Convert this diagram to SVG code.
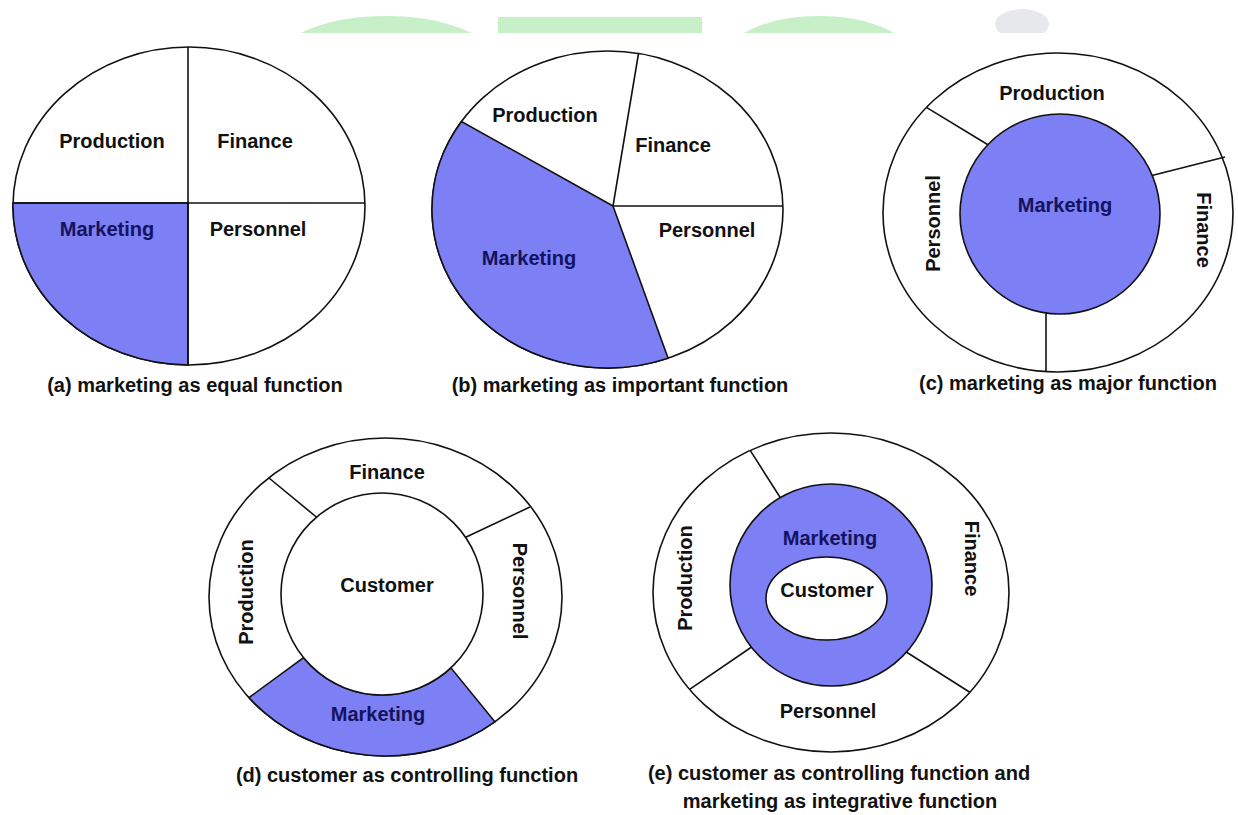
<svg xmlns="http://www.w3.org/2000/svg" width="1238" height="815" viewBox="0 0 1238 815">
  <defs>
    <style>
      .ring { fill: #ffffff; stroke: #111111; stroke-width: 1.6; }
      .blue { fill: #7d7ff5; stroke: #111111; stroke-width: 1.6; }
      .line { stroke: #111111; stroke-width: 1.6; fill: none; }
      .lbl  { font-family: "Liberation Sans", Arial, sans-serif; font-weight: bold; font-size: 20px; fill: #111111; text-anchor: middle; }
      .mk   { fill: #13135e; }
      .cap  { font-family: "Liberation Sans", Arial, sans-serif; font-weight: bold; font-size: 20px; fill: #111111; text-anchor: middle; }
      .deco { fill: #c8f0c8; }
    </style>
    <clipPath id="topStrip">
      <rect x="0" y="0" width="1238" height="33"/>
    </clipPath>
  </defs>

  <rect x="0" y="0" width="1238" height="815" fill="#ffffff"/>

  <!-- decorative band along the top edge -->
  <g id="top-band" clip-path="url(#topStrip)">
    <ellipse class="deco" cx="386" cy="60" rx="108" ry="44"/>
    <rect class="deco" x="498" y="17" width="204" height="20"/>
    <ellipse class="deco" cx="819" cy="60" rx="95" ry="44"/>
    <ellipse cx="1022" cy="24" rx="27" ry="15" fill="#e7e8eb"/>
  </g>

  <!-- (a) four equal quadrants -->
  <g id="diagram-a">
    <ellipse class="ring" cx="189" cy="206" rx="176" ry="159"/>
    <path class="blue" d="M188,203 L13,203 A176 159 0 0 0 188,365 Z"/>
    <g class="connectors">
      <line class="line" x1="188" y1="47" x2="188" y2="365"/>
      <line class="line" x1="13" y1="203" x2="365" y2="203"/>
    </g>
    <text class="lbl" x="112" y="148">Production</text>
    <text class="lbl" x="255" y="148">Finance</text>
    <text class="lbl mk" x="107" y="236">Marketing</text>
    <text class="lbl" x="258" y="236">Personnel</text>
    <text class="cap" x="195" y="392">(a) marketing as equal function</text>
  </g>

  <!-- (b) marketing takes the largest slice -->
  <g id="diagram-b">
    <ellipse class="ring" cx="607.5" cy="209.5" rx="175.5" ry="158.5"/>
    <path class="blue" d="M613,206 L461.5,121.5 A175.5 158.5 0 0 0 668.1,358.2 Z"/>
    <g class="connectors">
      <line class="line" x1="613" y1="206" x2="638.5" y2="53.5"/>
      <line class="line" x1="613" y1="206" x2="783" y2="206"/>
    </g>
    <text class="lbl" x="545" y="122">Production</text>
    <text class="lbl" x="673" y="152">Finance</text>
    <text class="lbl" x="707" y="237">Personnel</text>
    <text class="lbl mk" x="529" y="265">Marketing</text>
    <text class="cap" x="620" y="392">(b) marketing as important function</text>
  </g>

  <!-- (c) marketing at the core -->
  <g id="diagram-c">
    <ellipse class="ring" cx="1058" cy="212.5" rx="175" ry="159.5"/>
    <g class="connectors">
      <line class="line" x1="926.4" y1="107.4" x2="990" y2="146"/>
      <line class="line" x1="1225" y1="157" x2="1150" y2="176"/>
      <line class="line" x1="1046" y1="300" x2="1046" y2="371.6"/>
    </g>
    <circle class="blue" cx="1060" cy="214" r="100"/>
    <text class="lbl" x="1052" y="100">Production</text>
    <text class="lbl mk" x="1065" y="212">Marketing</text>
    <text class="lbl" transform="translate(940,223.5) rotate(-90)">Personnel</text>
    <text class="lbl" transform="translate(1197,230) rotate(90)">Finance</text>
    <text class="cap" x="1068" y="390">(c) marketing as major function</text>
  </g>

  <!-- (d) customer at the core, marketing as one outer segment -->
  <g id="diagram-d">
    <ellipse class="ring" cx="385.5" cy="597" rx="176.5" ry="159"/>
    <path class="blue" d="M248.9,697.6 A176.5 159 0 0 0 494.9,721.8 L450.9,667.8 A101 101 0 0 1 303.6,657.7 Z"/>
    <g class="connectors">
      <line class="line" x1="269" y1="478" x2="320" y2="520"/>
      <line class="line" x1="530" y1="507" x2="462" y2="539"/>
    </g>
    <circle class="ring" cx="382" cy="594" r="101"/>
    <text class="lbl" x="387" y="479">Finance</text>
    <text class="lbl" x="387" y="592">Customer</text>
    <text class="lbl mk" x="378" y="721">Marketing</text>
    <text class="lbl" transform="translate(253,592) rotate(-90)">Production</text>
    <text class="lbl" transform="translate(513,591) rotate(90)">Personnel</text>
    <text class="cap" x="407" y="782">(d) customer as controlling function</text>
  </g>

  <!-- (e) customer inside marketing, other functions around -->
  <g id="diagram-e">
    <ellipse class="ring" cx="831" cy="592.5" rx="178" ry="159.5"/>
    <g class="connectors">
      <line class="line" x1="750.2" y1="450.4" x2="785" y2="505"/>
      <line class="line" x1="689.6" y1="689.4" x2="756" y2="644"/>
      <line class="line" x1="969.8" y1="692.2" x2="900" y2="648"/>
    </g>
    <circle class="blue" cx="831" cy="585" r="101"/>
    <ellipse class="ring" cx="826.5" cy="598.5" rx="60.5" ry="41.5"/>
    <text class="lbl mk" x="830" y="545">Marketing</text>
    <text class="lbl" x="827" y="597">Customer</text>
    <text class="lbl" x="828" y="718">Personnel</text>
    <text class="lbl" transform="translate(692,578) rotate(-90)">Production</text>
    <text class="lbl" transform="translate(965,558.5) rotate(90)">Finance</text>
    <text class="cap" x="839" y="780">(e) customer as controlling function and</text>
    <text class="cap" x="840" y="808">marketing as integrative function</text>
  </g>
</svg>
